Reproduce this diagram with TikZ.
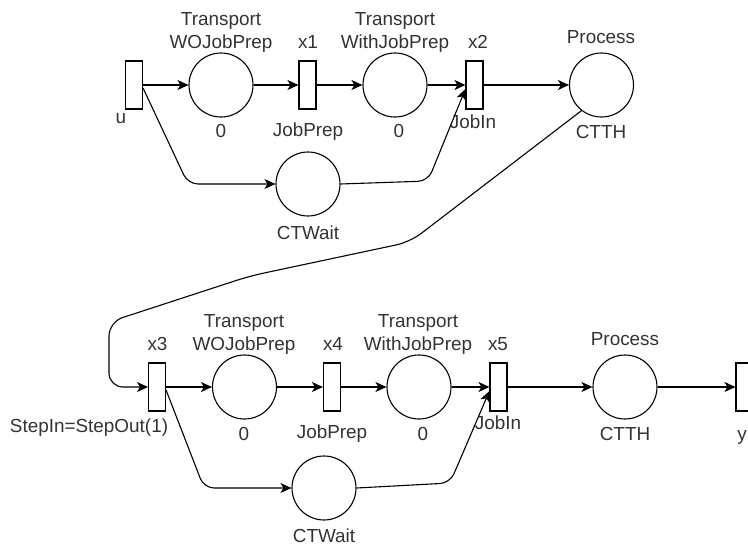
\documentclass[tikz,border=0pt]{standalone}
\usepackage{fontspec}
\setmainfont{Liberation Sans}
\usetikzlibrary{arrows.meta}
\begin{document}
\begin{tikzpicture}[x=1pt,y=-1pt,
  place/.style={circle,draw,line width=1.1pt,minimum size=64pt,inner sep=0pt},
  trans/.style={rectangle,draw,line width=1.1pt,minimum width=17pt,minimum height=48pt,inner sep=0pt},
  lbl/.style={font=\fontsize{18.9}{23}\selectfont,text=black!80,inner sep=0pt,anchor=base,align=center},
  arc/.style={line width=1.1pt,-{Stealth[length=11pt,width=10pt,inset=3pt]},rounded corners=10pt}
]
\useasboundingbox (0,0) rectangle (748,546);
% top row
\node[trans] (u) at (134,85) {};
\node[place] (p1) at (221,85) {};
\node[trans] (x1) at (307.5,85) {};
\node[place] (p2) at (395,85) {};
\node[trans] (x2) at (474.5,85) {};
\node[place] (p3) at (601.5,85) {};
\node[place] (w1) at (308,184) {};
% bottom row
\node[trans] (x3) at (157,387) {};
\node[place] (p4) at (244.5,387) {};
\node[trans] (x4) at (332,387) {};
\node[place] (p5) at (419,387) {};
\node[trans] (x5) at (498.5,387) {};
\node[place] (p6) at (625,387) {};
\node[trans] (yy) at (744.5,387) {};
\node[place] (w2) at (324,488) {};
% labels top
\node[lbl] (l1) at (221,48) {Transport\\WOJobPrep};
\node[lbl] (l2) at (308,48) {x1};
\node[lbl] (l3) at (395,48) {Transport\\WithJobPrep};
\node[lbl] (l4) at (478,48) {x2};
\node[lbl] (l5) at (601,43) {Process};
\node[lbl] (l6) at (121,123) {u};
\node[lbl] (l7) at (221,137) {0};
\node[lbl] (l8) at (308,136) {JobPrep};
\node[lbl] (l9) at (399,137) {0};
\node[lbl] (l10) at (473,128) {JobIn};
\node[lbl] (l11) at (601,138) {CTTH};
\node[lbl] (l12) at (308,239) {CTWait};
% labels bottom
\node[lbl] (m1) at (157.5,350) {x3};
\node[lbl] (m2) at (244,350) {Transport\\WOJobPrep};
\node[lbl] (m3) at (333,350) {x4};
\node[lbl] (m4) at (418,350) {Transport\\WithJobPrep};
\node[lbl] (m5) at (498,350) {x5};
\node[lbl] (m6) at (625,345) {Process};
\node[lbl] (m7) at (89,432) {StepIn=StepOut(1)};
\node[lbl] (m8) at (244,440) {0};
\node[lbl] (m9) at (332,438) {JobPrep};
\node[lbl] (m10) at (423,440) {0};
\node[lbl] (m11) at (498,429) {JobIn};
\node[lbl] (m12) at (625,440) {CTTH};
\node[lbl] (m13) at (742,440) {y};
\node[lbl] (m14) at (324,542) {CTWait};
% corner points
\coordinate (c1) at (188,184);
\coordinate (c2) at (428,181);
\coordinate (c3) at (410,242);
\coordinate (c4) at (250,276);
\coordinate (c5) at (109,322);
\coordinate (c6) at (109,387);
\coordinate (c7) at (204,488);
\coordinate (c8) at (450,483);
% connectors top
\draw[arc] (u.east) -- (p1.west);
\draw[arc] (p1.east) -- (x1.west);
\draw[arc] (x1.east) -- (p2.west);
\draw[arc] (p2.east) -- (x2.west);
\draw[arc] (x2.east) -- (p3.west);
\draw[arc] ([yshift=-3pt]u.east) -- (c1) -- (w1.west);
\draw[arc] (w1.east) -- (c2) -- ([yshift=-4pt]x2.west);
% link
\draw[arc,rounded corners=14pt] (p3.232) -- (c3) -- (c4) -- (c5) -- (c6) -- (x3.west);
% connectors bottom
\draw[arc] (x3.east) -- (p4.west);
\draw[arc] (p4.east) -- (x4.west);
\draw[arc] (x4.east) -- (p5.west);
\draw[arc] (p5.east) -- (x5.west);
\draw[arc] (x5.east) -- (p6.west);
\draw[arc] (p6.east) -- (yy.west);
\draw[arc] ([yshift=-3pt]x3.east) -- (c7) -- (w2.west);
\draw[arc] (w2.east) -- (c8) -- ([yshift=-4pt]x5.west);
\end{tikzpicture}
\end{document}
